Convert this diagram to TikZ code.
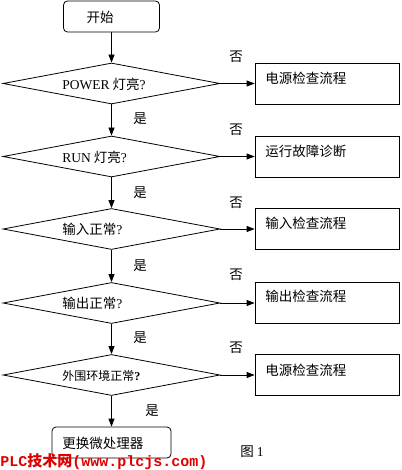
\documentclass[tikz,border=0pt]{standalone}
\usepackage{fontspec}
\setmainfont{Liberation Serif}
\setmonofont{Liberation Mono}
\newfontfamily\cjk{Noto Sans CJK SC}
\usetikzlibrary{shapes.geometric,arrows.meta}
\definecolor{wm}{RGB}{225,0,0}
\begin{document}
\begin{tikzpicture}[x=1pt,y=-1pt,
  line width=0.8pt,
  dec/.style={draw,diamond,minimum width=217pt,minimum height=41pt,inner sep=0pt},
  proc/.style={draw,rectangle,minimum width=144.5pt,minimum height=41pt,inner sep=0pt},
  term/.style={draw,rectangle,rounded corners=4pt,inner sep=0pt},
  txt/.style={font=\cjk\fontsize{13.5}{14}\selectfont,inner sep=0pt,anchor=west},
  lab/.style={font=\cjk\fontsize{13.5}{14}\selectfont,inner sep=0pt},
  arr/.style={-{Triangle[length=8pt,width=6pt]}}
]
\useasboundingbox (0,0) rectangle (401,470);
% start
\node[term,minimum width=96pt,minimum height=31pt] (s) at (111.5,16.5) {};
\node[lab] (st) at (100,17) {开始};
% diamonds
\node[dec] (d1) at (111.5,83.5) {};
\node[dec] (d2) at (111.5,156.5) {};
\node[dec] (d3) at (111.5,229) {};
\node[dec] (d4) at (111.5,303) {};
\node[dec] (d5) at (111.5,375) {};
\node[txt] (t1) at (62,84) {{\rmfamily POWER} 灯亮{\rmfamily ?}};
\node[txt] (t2) at (62,157) {{\rmfamily RUN} 灯亮{\rmfamily ?}};
\node[txt] (t3) at (62,229.5) {输入正常{\rmfamily ?}};
\node[txt] (t4) at (62,303.5) {输出正常{\rmfamily ?}};
\node[txt,font=\cjk\fontsize{12}{13}\selectfont] (t5) at (62,375.5) {外围环境正常{\rmfamily\bfseries ?}};
% boxes
\node[proc] (b1) at (327.25,83.5) {};
\node[proc] (b2) at (327.25,156.5) {};
\node[proc] (b3) at (327.25,229) {};
\node[proc] (b4) at (327.25,303) {};
\node[proc] (b5) at (327.25,375) {};
\node[txt] (bt1) at (265,78) {电源检查流程};
\node[txt] (bt2) at (265,151) {运行故障诊断};
\node[txt] (bt3) at (265,223) {输入检查流程};
\node[txt] (bt4) at (265,296.5) {输出检查流程};
\node[txt] (bt5) at (265,370) {电源检查流程};
% end
\node[term,minimum width=119pt,minimum height=31pt] (e) at (111.5,442.5) {};
\node[txt] (et) at (62,443) {更换微处理器};
% arrows
\draw[arr] (s.south) -- (d1.north);
\draw[arr] (d1.south) -- (d2.north);
\draw[arr] (d2.south) -- (d3.north);
\draw[arr] (d3.south) -- (d4.north);
\draw[arr] (d4.south) -- (d5.north);
\draw[arr] (d5.south) -- (e.north);
\draw[arr] (d1.east) -- (b1.west);
\draw[arr] (d2.east) -- (b2.west);
\draw[arr] (d3.east) -- (b3.west);
\draw[arr] (d4.east) -- (b4.west);
\draw[arr] (d5.east) -- (b5.west);
% labels
\node[lab] (n1) at (236,57) {否};
\node[lab] (n2) at (236,130) {否};
\node[lab] (n3) at (236,203) {否};
\node[lab] (n4) at (236,275) {否};
\node[lab] (n5) at (236,348) {否};
\node[lab] (y1) at (140,119) {是};
\node[lab] (y2) at (140,193) {是};
\node[lab] (y3) at (140,266) {是};
\node[lab] (y4) at (140,338) {是};
\node[lab] (y5) at (152,411) {是};
\node[lab,anchor=west] (fig) at (240,452) {图 {\rmfamily 1}};
\node[anchor=west,inner sep=0pt,text=wm,font=\fontsize{15}{16}\selectfont\bfseries] (w) at (0,462) {\ttfamily PLC{\cjk 技术网}(www.plcjs.com)};
\end{tikzpicture}
\end{document}
